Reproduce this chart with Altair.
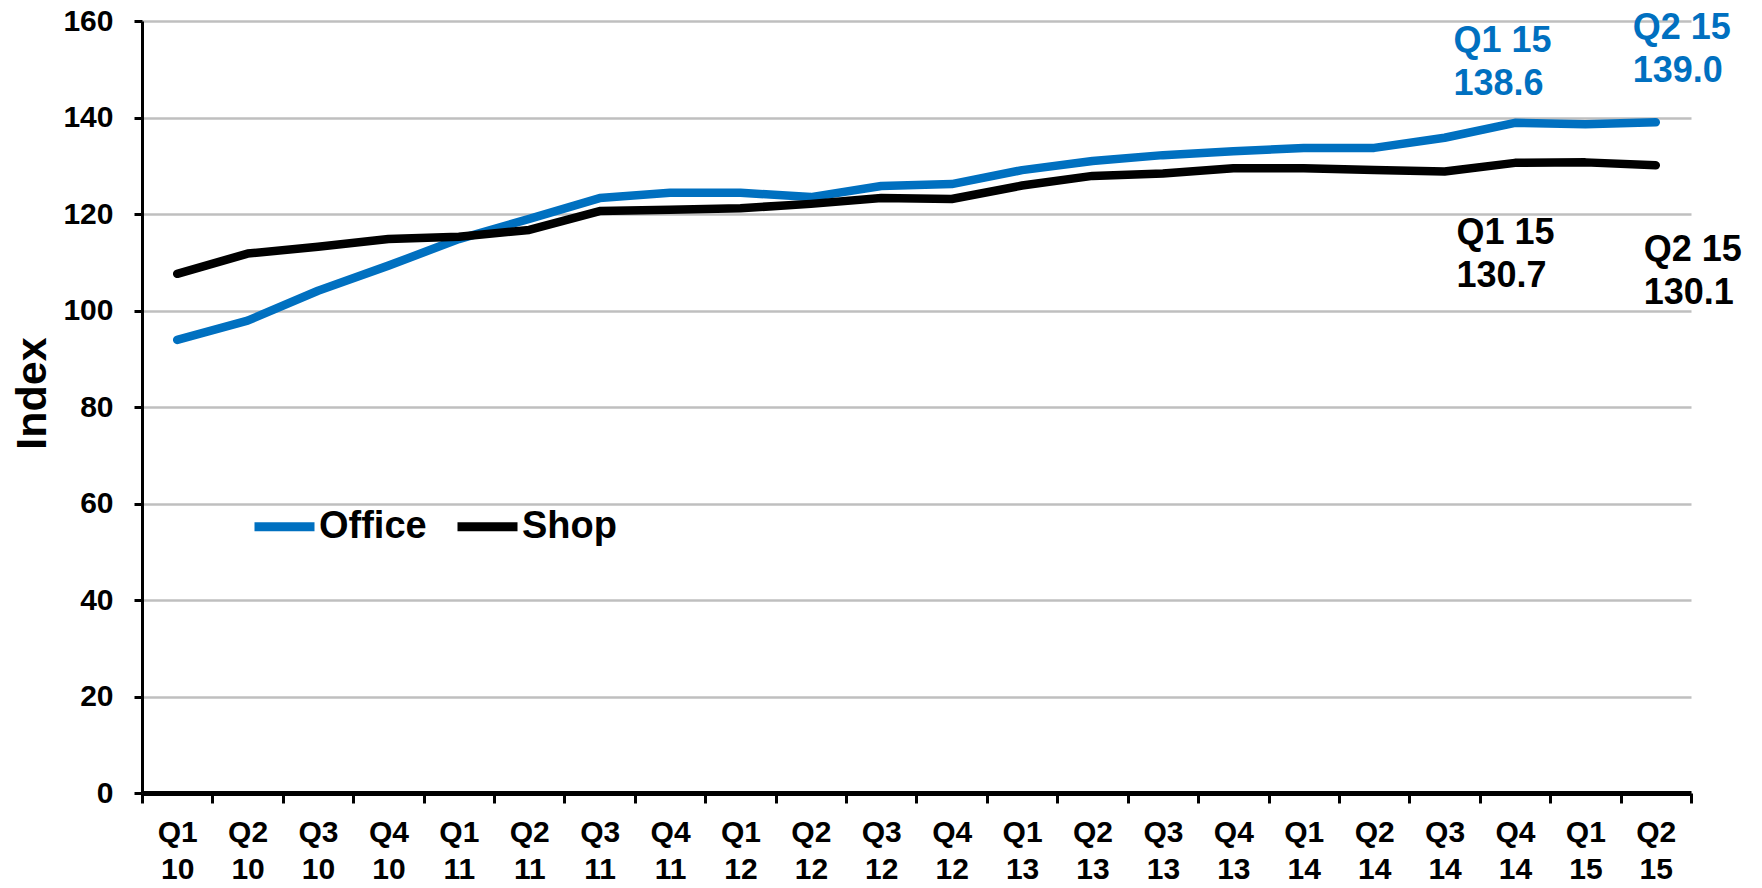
import altair as alt
import pandas as pd

quarters = ["Q1 10", "Q2 10", "Q3 10", "Q4 10", "Q1 11", "Q2 11", "Q3 11", "Q4 11",
            "Q1 12", "Q2 12", "Q3 12", "Q4 12", "Q1 13", "Q2 13", "Q3 13", "Q4 13",
            "Q1 14", "Q2 14", "Q3 14", "Q4 14", "Q1 15", "Q2 15"]
office = [93.9, 97.9, 104.1, 109.3, 114.8, 119.0, 123.3, 124.4, 124.4, 123.5, 125.8, 126.2,
          129.1, 131.0, 132.2, 133.0, 133.7, 133.7, 135.8, 138.9, 138.6, 139.0]
shop = [107.6, 111.8, 113.2, 114.8, 115.3, 116.7, 120.6, 120.9, 121.2, 122.1, 123.3, 123.1,
        125.9, 127.9, 128.4, 129.5, 129.5, 129.1, 128.8, 130.6, 130.7, 130.1]
series_names = ["Office", "Shop"]
series_colors = ["#0070C0", "#000000"]
y_ticks = [0, 20, 40, 60, 80, 100, 120, 140, 160]

ann_quarters = ["Q1 15", "Q2 15", "Q1 15", "Q2 15"]
ann_series = ["Office", "Office", "Shop", "Shop"]
ann_values = [138.6, 139.0, 130.7, 130.1]
ann_labels = ["Q1 15\n138.6", "Q2 15\n139.0", "Q1 15\n130.7", "Q2 15\n130.1"]

rows = []
for q, o, s in zip(quarters, office, shop):
    rows.append({"quarter": q, "series": "Office", "value": o})
    rows.append({"quarter": q, "series": "Shop", "value": s})
df = pd.DataFrame(rows)

ann = pd.DataFrame({"quarter": ann_quarters, "series": ann_series,
                    "value": ann_values, "label": ann_labels})

FONT = "Liberation Sans"
W, H = 1549, 772

x_enc = alt.X(
    "quarter:N", sort=quarters,
    scale=alt.Scale(type="band", paddingInner=0, paddingOuter=0),
    bandPosition=0.5,
    axis=alt.Axis(
        title=None, labelAngle=0, tickBand="extent",
        labelExpr="split(datum.label, ' ')",
        labelFont=FONT, labelFontSize=30, labelFontWeight="bold", labelColor="black",
        labelLineHeight=37, labelBaseline="top", labelPadding=14,
        domainColor="black", domainWidth=5, tickColor="black", tickWidth=3, tickSize=10,
        grid=False,
    ),
)
y_enc = alt.Y(
    "value:Q",
    scale=alt.Scale(domain=[0, 160], nice=False, zero=True),
    axis=alt.Axis(
        values=y_ticks, title="Index", grid=True, gridColor="#BFBFBF", gridWidth=2.5,
        labelFont=FONT, labelFontSize=30, labelFontWeight="bold", labelColor="black",
        labelPadding=21, domainColor="black", domainWidth=3,
        tickColor="black", tickWidth=3, tickSize=8,
        titleFont=FONT, titleFontSize=43, titleFontWeight="bold", titleColor="black",
        titleAngle=270, titleX=-110, titleY=372, titleAlign="center", titleBaseline="middle",
    ),
)

lines = alt.Chart(df).mark_line(strokeWidth=8.5, strokeCap="round", strokeJoin="round").encode(
    x=x_enc,
    y=y_enc,
    color=alt.Color(
        "series:N",
        scale=alt.Scale(domain=series_names, range=series_colors),
        legend=alt.Legend(
            orient="none", legendX=108, legendY=471, direction="horizontal", title=None,
            symbolType="stroke", symbolStrokeWidth=9, symbolSize=3600,
            labelFont=FONT, labelFontSize=38, labelFontWeight="bold", labelColor="black",
            labelOffset=0, columnPadding=12, padding=0,
        ),
    ),
    order=alt.Order("series:N"),
)

offsets = [(-132, -83, "#0070C0"), (-23, -94, "#0070C0"), (-129, 71, "#000000"), (-12, 85, "#000000")]
texts = []
for i, (dx, dy, col) in enumerate(offsets):
    t = alt.Chart(ann.iloc[[i]]).mark_text(
        align="left", baseline="middle", dx=dx, dy=dy, lineBreak="\n", lineHeight=43,
        font=FONT, fontSize=36, fontWeight="bold", color=col,
    ).encode(
        x=alt.X("quarter:N", sort=quarters, bandPosition=0.5),
        y=alt.Y("value:Q"),
        text="label:N",
    )
    texts.append(t)

chart = alt.layer(lines, *texts).properties(
    width=W, height=H,
    padding={"left": 134, "top": 13, "right": 63, "bottom": 92},
    autosize=alt.AutoSizeParams(type="none"),
).configure_view(stroke=None)

chart.save("out.html", embed_options={"renderer": "svg", "actions": False})
